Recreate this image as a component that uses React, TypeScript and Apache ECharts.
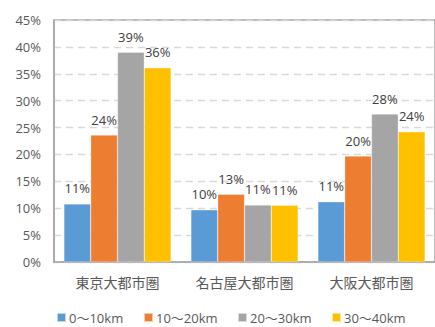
import React, { useEffect, useRef } from "react";
import * as echarts from "echarts";

const categories = ["東京大都市圏", "名古屋大都市圏", "大阪大都市圏"];
const seriesNames = ["0〜10km", "10〜20km", "20〜30km", "30〜40km"];
const s0to10 = [10.8, 9.7, 11.2];
const s10to20 = [23.6, 12.6, 19.7];
const s20to30 = [39.0, 10.6, 27.5];
const s30to40 = [36.1, 10.55, 24.2];
const colors = ["#5B9BD5", "#ED7D31", "#A5A5A5", "#FFC000"];
const legendLefts = [56, 143, 237, 331];

const FONT = "'Open Sans', 'Noto Sans CJK JP', sans-serif";

export default function App() {
  const ref = useRef<HTMLDivElement>(null);
  useEffect(() => {
    if (!ref.current) return;
    const chart = echarts.init(ref.current, null, { renderer: "svg" });
    const values = [s0to10, s10to20, s20to30, s30to40];
    chart.setOption({
      animation: false,
      textStyle: { fontFamily: FONT },
      grid: {
        left: 54,
        top: 20,
        width: 384,
        height: 242,
        show: true,
        borderColor: "#a6a6a6",
        borderWidth: 1.5,
        containLabel: false,
      },
      legend: seriesNames.map((n, i) => ({
        data: [n],
        left: legendLefts[i],
        top: 311,
        itemWidth: 9,
        itemHeight: 9,
        icon: "rect",
        itemGap: 4,
        textStyle: { fontFamily: FONT, fontSize: 13, color: "#595959", padding: [0, 0, 0, -2] },
        padding: 0,
      })),
      xAxis: {
        type: "category",
        data: categories,
        axisLine: { lineStyle: { color: "#a6a6a6", width: 1.5 } },
        axisTick: { show: false },
        axisLabel: { fontFamily: FONT, fontSize: 14, color: "#595959", margin: 13, interval: 0, hideOverlap: false },
      },
      yAxis: {
        type: "value",
        min: 0,
        max: 45,
        interval: 5,
        axisLine: { show: true, lineStyle: { color: "#a6a6a6", width: 1.5 } },
        axisTick: { show: false },
        axisLabel: {
          fontFamily: FONT,
          fontSize: 13,
          color: "#595959",
          margin: 13,
          formatter: (v: number) => v + "%",
        },
        splitLine: { lineStyle: { color: "#d9d9d9", type: [7, 5], width: 1.3 } },
      },
      series: seriesNames.map((n, i) => ({
        name: n,
        type: "bar",
        data: values[i],
        barGap: "0%",
        barCategoryGap: "15.6%",
        itemStyle: { color: colors[i], borderColor: "rgba(255,255,255,0.6)", borderWidth: 0.5 },
        label: {
          show: true,
          position: "top",
          distance: 9,
          fontFamily: FONT,
          fontSize: 13,
          color: "#404040",
          formatter: (p: any) => Math.round(p.value) + "%",
        },
      })),
    });
    return () => chart.dispose();
  }, []);
  return (
    <div
      ref={ref}
      style={{ position: "fixed", left: 0, top: 0, width: 435, height: 327, background: "#fff" }}
    />
  );
}
